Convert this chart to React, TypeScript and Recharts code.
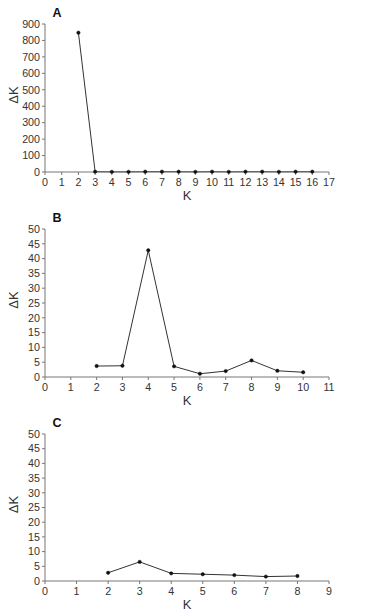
import { LineChart, Line, XAxis, YAxis } from 'recharts';

// panel A
const kA = [2, 3, 4, 5, 6, 7, 8, 9, 10, 11, 12, 13, 14, 15, 16];
const deltaKA = [847, 2, 1, 1, 2, 2, 2, 1, 2, 1, 2, 2, 1, 2, 2];
const xTicksA = [0, 1, 2, 3, 4, 5, 6, 7, 8, 9, 10, 11, 12, 13, 14, 15, 16, 17];
const yTicksA = [0, 100, 200, 300, 400, 500, 600, 700, 800, 900];

// panel B
const kB = [2, 3, 4, 5, 6, 7, 8, 9, 10];
const deltaKB = [3.7, 3.8, 42.8, 3.6, 1.1, 2.0, 5.6, 2.1, 1.6];
const xTicksB = [0, 1, 2, 3, 4, 5, 6, 7, 8, 9, 10, 11];

// panel C
const kC = [2, 3, 4, 5, 6, 7, 8];
const deltaKC = [2.8, 6.5, 2.6, 2.3, 2.0, 1.5, 1.7];
const xTicksC = [0, 1, 2, 3, 4, 5, 6, 7, 8, 9];

const yTicksBC = [0, 5, 10, 15, 20, 25, 30, 35, 40, 45, 50];

const FONT = '"Liberation Sans", Arial, Helvetica, sans-serif';
const AXIS = '#777';
const TEXT = '#333';

interface PanelProps {
  letter: string;
  k: number[];
  dk: number[];
  xTicks: number[];
  yTicks: number[];
  top: number;
  height: number;
}

function Panel({ letter, k, dk, xTicks, yTicks, top, height }: PanelProps) {
  const data = k.map((v, i) => ({ k: v, dk: dk[i] }));
  const tickStyle = { fontSize: 10.7, fill: TEXT, fontFamily: FONT };
  return (
    <div style={{ position: 'absolute', left: 0, top, width: 371, height }}>
      <LineChart
        width={371}
        height={height}
        data={data}
        margin={{ top: 24, right: 42, left: 0, bottom: 0 }}
      >
        <XAxis
          dataKey="k"
          type="number"
          domain={[xTicks[0], xTicks[xTicks.length - 1]]}
          ticks={xTicks}
          interval={0}
          height={33}
          stroke={AXIS}
          tickSize={3}
          tickMargin={3}
          tick={tickStyle}
          label={(props: any) => {
            const vb = props.viewBox || {};
            return (
              <text
                x={vb.x + vb.width / 2}
                y={vb.y + 28}
                textAnchor="middle"
                fontSize={13}
                fill={TEXT}
                fontFamily={FONT}
              >
                K
              </text>
            );
          }}
        />
        <YAxis
          type="number"
          domain={[yTicks[0], yTicks[yTicks.length - 1]]}
          ticks={yTicks}
          interval={0}
          width={45}
          stroke={AXIS}
          tickSize={3}
          tickMargin={2}
          tick={tickStyle}
          label={(props: any) => {
            const vb = props.viewBox || {};
            const cy = vb.y + vb.height / 2 - 3;
            return (
              <g>
                <text
                  x={13}
                  y={cy}
                  transform={`rotate(-90, 13, ${cy})`}
                  textAnchor="middle"
                  dominantBaseline="central"
                  fontSize={13}
                  fill={TEXT}
                  fontFamily={FONT}
                >
                  ΔK
                </text>
                <text
                  x={57}
                  y={vb.y - 7}
                  textAnchor="middle"
                  fontSize={12.5}
                  fontWeight="bold"
                  fill="#111"
                  fontFamily={FONT}
                >
                  {letter}
                </text>
              </g>
            );
          }}
        />
        <Line
          dataKey="dk"
          stroke="#333"
          strokeWidth={1}
          dot={{ r: 1.7, fill: '#111', stroke: '#111', strokeWidth: 0.5 }}
          isAnimationActive={false}
        />
      </LineChart>
    </div>
  );
}

export default function App() {
  return (
    <div
      style={{
        position: 'absolute',
        left: 0,
        top: 0,
        width: 371,
        height: 612,
        background: '#fff',
        overflow: 'hidden',
      }}
    >
      <Panel letter="A" k={kA} dk={deltaKA} xTicks={xTicksA} yTicks={yTicksA} top={0} height={205} />
      <Panel letter="B" k={kB} dk={deltaKB} xTicks={xTicksB} yTicks={yTicksBC} top={205} height={205} />
      <Panel letter="C" k={kC} dk={deltaKC} xTicks={xTicksC} yTicks={yTicksBC} top={410} height={204} />
    </div>
  );
}
